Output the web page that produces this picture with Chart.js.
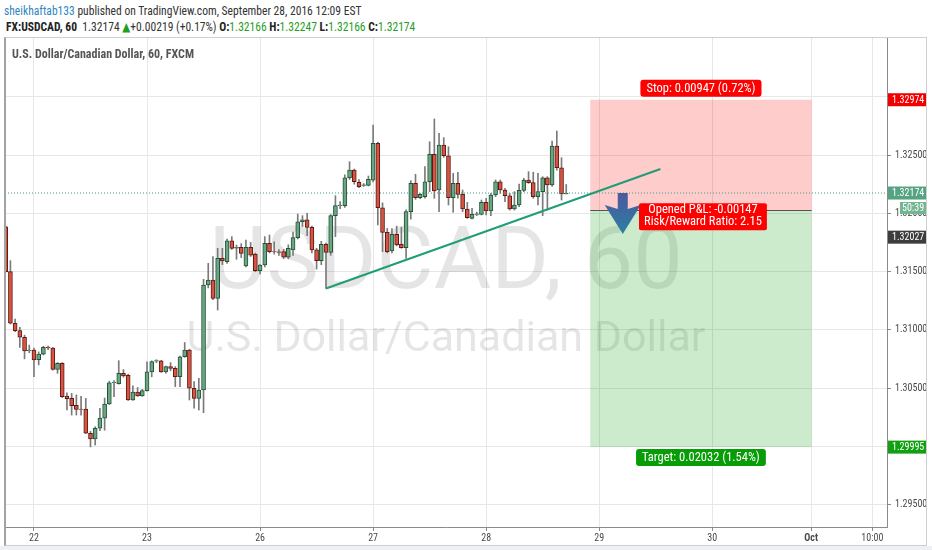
<!DOCTYPE html>
<html>
<head>
<meta charset="utf-8">
<script src="https://cdn.jsdelivr.net/npm/chart.js@4.4.1/dist/chart.umd.min.js"></script>
<style>
  html, body { margin: 0; padding: 0; background: #fff; }
  body { width: 932px; height: 550px; position: relative; overflow: hidden;
         font-family: 'Liberation Sans Narrow', 'Roboto Condensed', 'DejaVu Sans Condensed', sans-serif; color: #333; }
  #hdr1 { position: absolute; left: 4px; top: 3px; font-size: 13px; line-height: 15px; white-space: nowrap;
          transform: scaleX(0.89); transform-origin: left center; }
  #hdr1 .user { color: #2e86c1; }
  #hdr2 { position: absolute; left: 6px; top: 19px; font-size: 12.5px; line-height: 15px; white-space: nowrap;
          transform: scaleX(0.925); transform-origin: left center; }
  #hdr2 b { font-weight: bold; color: #222; }
  #hdr2 .g { color: #1f9e1f; }
  #chartBox { position: absolute; left: 0; top: 37px; width: 932px; height: 508px; }
  #frame { position: absolute; left: 4px; top: 37px; width: 923px; height: 509px; box-sizing: border-box;
           border: 1px solid #cfcfcf; border-left: 2px solid #a3a3a3; pointer-events: none; }
  #legend { position: absolute; left: 12px; top: 46px; font-size: 12px; line-height: 16px; color: #555; font-weight: bold; white-space: nowrap; }
  #strip { position: absolute; left: 0; top: 546px; width: 932px; height: 4px; background: #eef0f3; }
</style>
</head>
<body>
<div id="hdr1"><span class="user">sheikhaftab133</span> published on TradingView.com, September 28, 2016 12:09 EST</div>
<div id="hdr2"><b>FX:USDCAD, 60</b>&nbsp; 1.32174 <span class="g">&#9650;</span>+0.00219 (+0.17%) <b>O:</b><span class="g">1.32166</span> <b>H:</b><span class="g">1.32247</span> <b>L:</b><span class="g">1.32166</span> <b>C:</b><span class="g">1.32174</span></div>
<div id="chartBox"><canvas id="chart"></canvas></div>
<div id="frame"></div>
<div id="legend">U.S. Dollar/Canadian Dollar, 60, FXCM</div>
<div id="strip"></div>
<script>
// hourly candles, Sep 21 evening -> Sep 28 12:00
const candleOpen = [
  1.31885, 1.31500, 1.31057, 1.30994, 1.30937, 1.30822, 1.30828, 1.30746, 1.30792, 1.30852,
  1.30845, 1.30662, 1.30714, 1.30432, 1.30413, 1.30353, 1.30322, 1.30322, 1.30114, 1.30065,
  1.30157, 1.30243, 1.30365, 1.30547, 1.30540, 1.30628, 1.30611, 1.30399, 1.30468, 1.30434,
  1.30480, 1.30640, 1.30732, 1.30735, 1.30640, 1.30685, 1.30670, 1.30600, 1.30770, 1.30828,
  1.30500, 1.30413, 1.30485, 1.31385, 1.31428, 1.31271, 1.31614, 1.31585, 1.31765, 1.31702,
  1.31708, 1.31548, 1.31708, 1.31650, 1.31508, 1.31557, 1.31743, 1.31671, 1.31670, 1.31671,
  1.31623, 1.31686, 1.31791, 1.31928, 1.31945, 1.31880, 1.31686, 1.31594, 1.31734, 1.31665,
  1.31980, 1.32066, 1.32066, 1.32305, 1.32371, 1.32266, 1.32240, 1.32240, 1.32285, 1.32600,
  1.32048, 1.31837, 1.31677, 1.31820, 1.31734, 1.31706, 1.32014, 1.32257, 1.32134, 1.32143,
  1.32271, 1.32506, 1.32200, 1.32586, 1.32494, 1.32134, 1.32257, 1.32163, 1.32037, 1.31957,
  1.31991, 1.31991, 1.32094, 1.32020, 1.32157, 1.32271, 1.32200, 1.32151, 1.32037, 1.32071,
  1.32197, 1.32286, 1.32263, 1.32143, 1.32186, 1.32305, 1.32243, 1.32577, 1.32391, 1.32166
];
const candleHigh = [
  1.31890, 1.31594, 1.31094, 1.31022, 1.30955, 1.30870, 1.30845, 1.30812, 1.30860, 1.30862,
  1.30850, 1.30720, 1.30720, 1.30460, 1.30456, 1.30442, 1.30430, 1.30413, 1.30130, 1.30170,
  1.30328, 1.30416, 1.30560, 1.30565, 1.30736, 1.30660, 1.30620, 1.30520, 1.30506, 1.30490,
  1.30727, 1.30735, 1.30745, 1.30740, 1.30690, 1.30720, 1.30685, 1.30775, 1.30892, 1.30835,
  1.30557, 1.30585, 1.31434, 1.31571, 1.31628, 1.31700, 1.31700, 1.31780, 1.31800, 1.31728,
  1.31740, 1.31770, 1.31750, 1.31660, 1.31560, 1.31800, 1.31814, 1.31756, 1.31690, 1.31690,
  1.31730, 1.31840, 1.31993, 1.31980, 1.32000, 1.31890, 1.31700, 1.31760, 1.31745, 1.31990,
  1.32151, 1.32100, 1.32330, 1.32443, 1.32380, 1.32290, 1.32255, 1.32320, 1.32757, 1.32610,
  1.32090, 1.31870, 1.31870, 1.31890, 1.31880, 1.32030, 1.32280, 1.32335, 1.32170, 1.32400,
  1.32614, 1.32809, 1.32686, 1.32649, 1.32571, 1.32343, 1.32352, 1.32200, 1.32094, 1.32043,
  1.32010, 1.32114, 1.32129, 1.32171, 1.32286, 1.32286, 1.32214, 1.32171, 1.32186, 1.32250,
  1.32300, 1.32357, 1.32352, 1.32343, 1.32314, 1.32314, 1.32620, 1.32706, 1.32477, 1.32247
];
const candleLow = [
  1.31495, 1.31050, 1.30985, 1.30850, 1.30752, 1.30805, 1.30600, 1.30700, 1.30785, 1.30830,
  1.30655, 1.30628, 1.30420, 1.30313, 1.30270, 1.30270, 1.30270, 1.30110, 1.29997, 1.30013,
  1.30137, 1.30140, 1.30360, 1.30428, 1.30535, 1.30595, 1.30395, 1.30395, 1.30430, 1.30430,
  1.30475, 1.30598, 1.30720, 1.30635, 1.30630, 1.30650, 1.30514, 1.30514, 1.30765, 1.30399,
  1.30328, 1.30313, 1.30290, 1.31360, 1.31260, 1.31171, 1.31560, 1.31570, 1.31690, 1.31606,
  1.31620, 1.31540, 1.31630, 1.31500, 1.31480, 1.31540, 1.31660, 1.31650, 1.31640, 1.31610,
  1.31610, 1.31640, 1.31780, 1.31886, 1.31808, 1.31660, 1.31522, 1.31560, 1.31355, 1.31640,
  1.31800, 1.32040, 1.32050, 1.32290, 1.32250, 1.32220, 1.32230, 1.32235, 1.32270, 1.31900,
  1.31671, 1.31660, 1.31660, 1.31720, 1.31700, 1.31614, 1.31950, 1.32120, 1.32125, 1.32130,
  1.32186, 1.32129, 1.32014, 1.32480, 1.32071, 1.32009, 1.32129, 1.32014, 1.31957, 1.31951,
  1.31980, 1.31986, 1.31986, 1.31980, 1.32143, 1.32171, 1.32100, 1.32028, 1.32028, 1.32057,
  1.32186, 1.32257, 1.32129, 1.32071, 1.31980, 1.32028, 1.32230, 1.32370, 1.32114, 1.32166
];
const candleClose = [
  1.31500, 1.31057, 1.30994, 1.30937, 1.30820, 1.30828, 1.30742, 1.30792, 1.30850, 1.30845,
  1.30662, 1.30714, 1.30428, 1.30410, 1.30350, 1.30319, 1.30318, 1.30114, 1.30065, 1.30157,
  1.30243, 1.30365, 1.30547, 1.30550, 1.30628, 1.30605, 1.30399, 1.30468, 1.30434, 1.30480,
  1.30640, 1.30728, 1.30738, 1.30640, 1.30685, 1.30670, 1.30600, 1.30770, 1.30828, 1.30500,
  1.30413, 1.30485, 1.31385, 1.31428, 1.31271, 1.31614, 1.31591, 1.31765, 1.31700, 1.31708,
  1.31657, 1.31708, 1.31642, 1.31508, 1.31557, 1.31743, 1.31671, 1.31668, 1.31665, 1.31623,
  1.31700, 1.31791, 1.31928, 1.31945, 1.31880, 1.31686, 1.31594, 1.31734, 1.31665, 1.31980,
  1.32066, 1.32070, 1.32305, 1.32371, 1.32271, 1.32228, 1.32245, 1.32291, 1.32600, 1.32048,
  1.31837, 1.31671, 1.31820, 1.31728, 1.31706, 1.32014, 1.32257, 1.32134, 1.32163, 1.32271,
  1.32506, 1.32191, 1.32586, 1.32494, 1.32134, 1.32257, 1.32163, 1.32037, 1.31963, 1.31991,
  1.31995, 1.32094, 1.32020, 1.32157, 1.32271, 1.32200, 1.32151, 1.32037, 1.32071, 1.32197,
  1.32286, 1.32263, 1.32143, 1.32186, 1.32305, 1.32243, 1.32577, 1.32391, 1.32166, 1.32174
];

// axis ticks (x in bar index units)
const dayTickIdx = [6, 30, 54, 78, 102, 126, 150, 171, 184];
const dayTickText = ['22', '23', '26', '27', '28', '29', '30', 'Oct', '10:00'];
const priceTicks = [1.295, 1.300, 1.305, 1.310, 1.315, 1.320, 1.325, 1.330];
const coveredTicks = [1.300, 1.330]; // labels sitting under the price tags
const xRange = [-0.15, 187.1];
const yRange = [1.29310, 1.33512];

// drawings
const lastPrice = 1.32174;
const trendX = [68, 139];
const trendY = [1.31355, 1.32380];
const shortFrom = 124.1, shortTo = 171.1;
const entryPrice = 1.32027, stopPrice = 1.32974, targetPrice = 1.29995;
const arrowIdx = 131;
const stopText = 'Stop: 0.00947 (0.72%)';
const targetText = 'Target: 0.02032 (1.54%)';
const pnlText = ['Opened P&L: -0.00147', 'Risk/Reward Ratio: 2.15'];
const watermark = ['USDCAD, 60', 'U.S. Dollar/Canadian Dollar'];
const countdown = '50:39';

const UP = '#6ba583', UP_BORDER = '#225437';
const DOWN = '#d75442', DOWN_BORDER = '#5b1a13';
const narrow = "'Liberation Sans Narrow', 'Roboto Condensed', 'DejaVu Sans Condensed', sans-serif";

Chart.defaults.font.family = narrow;

const isUp = candleOpen.map((o, i) => candleClose[i] >= o);

function roundBox(ctx, x, y, w, h, r, color) {
  ctx.fillStyle = color;
  ctx.beginPath();
  ctx.roundRect(x, y, w, h, r);
  ctx.fill();
}

function priceTag(ctx, left, yc, text, bg, fg) {
  ctx.fillStyle = bg;
  ctx.fillRect(left + 1, yc - 6.5, 38, 13);
  ctx.fillStyle = fg || '#fff';
  ctx.font = '10px ' + narrow;
  ctx.textAlign = 'left';
  ctx.textBaseline = 'middle';
  ctx.fillText(text, left + 5, yc + 0.5);
}

const overlay = {
  id: 'overlay',
  beforeDatasetsDraw(chart) {
    const { ctx, chartArea: a, scales: { x, y } } = chart;
    ctx.save();
    ctx.beginPath();
    ctx.rect(a.left, a.top, a.right - a.left, a.bottom - a.top);
    ctx.clip();
    // watermark
    const cx = (a.left + a.right) / 2, cy = (a.top + a.bottom) / 2;
    ctx.fillStyle = 'rgba(0,0,0,0.1)';
    ctx.textAlign = 'center';
    ctx.textBaseline = 'alphabetic';
    ctx.font = '88px Roboto';
    ctx.fillText(watermark[0], cx, cy + 6);
    ctx.font = '43px Roboto';
    ctx.fillText(watermark[1], cx, cy + 69);
    // short position boxes
    const x0 = x.getPixelForValue(shortFrom), x1 = x.getPixelForValue(shortTo);
    const yS = y.getPixelForValue(stopPrice), yE = y.getPixelForValue(entryPrice), yT = y.getPixelForValue(targetPrice);
    ctx.fillStyle = 'rgba(255,0,0,0.2)';
    ctx.fillRect(x0, yS, x1 - x0, yE - yS);
    ctx.fillStyle = 'rgba(0,155,0,0.2)';
    ctx.fillRect(x0, yE, x1 - x0, yT - yE);
    ctx.strokeStyle = '#555';
    ctx.lineWidth = 1;
    ctx.beginPath();
    ctx.moveTo(x0, Math.round(yE) + 0.5);
    ctx.lineTo(x1, Math.round(yE) + 0.5);
    ctx.stroke();
    ctx.restore();
  },
  afterDraw(chart) {
    const { ctx, scales: { x, y } } = chart;
    const x0 = x.getPixelForValue(shortFrom), x1 = x.getPixelForValue(shortTo);
    const xc = (x0 + x1) / 2;
    const yS = y.getPixelForValue(stopPrice), yE = y.getPixelForValue(entryPrice), yT = y.getPixelForValue(targetPrice);
    ctx.save();
    // arrow
    const ax = x.getPixelForValue(arrowIdx), ay = y.getPixelForValue(lastPrice);
    const g = ctx.createLinearGradient(0, ay, 0, ay + 42);
    g.addColorStop(0, '#4d5a9c');
    g.addColorStop(0.45, '#3d6aa0');
    g.addColorStop(1, '#2a82a0');
    ctx.fillStyle = g;
    ctx.beginPath();
    ctx.moveTo(ax - 5, ay);
    ctx.lineTo(ax + 5, ay);
    ctx.lineTo(ax + 5, ay + 16);
    ctx.lineTo(ax + 18, ay + 12);
    ctx.lineTo(ax, ay + 41);
    ctx.lineTo(ax - 18, ay + 12);
    ctx.lineTo(ax - 5, ay + 16);
    ctx.closePath();
    ctx.fill();

    // labels
    ctx.font = '12.5px ' + narrow;
    ctx.textAlign = 'center';
    ctx.textBaseline = 'middle';
    let w = ctx.measureText(stopText).width + 12;
    roundBox(ctx, xc - w / 2, yS - 20, w, 17, 3, '#ff0000');
    ctx.fillStyle = '#fff';
    ctx.fillText(stopText, xc, yS - 11);

    w = ctx.measureText(targetText).width + 12;
    roundBox(ctx, xc - w / 2, yT + 2, w, 17, 3, '#079d07');
    ctx.fillStyle = '#fff';
    ctx.fillText(targetText, xc, yT + 11);

    w = Math.max(...pnlText.map(t => ctx.measureText(t).width)) + 10;
    roundBox(ctx, xc + 2 - w / 2, yE - 7, w, 27, 2, '#ff0000');
    ctx.fillStyle = '#fff';
    ctx.fillText(pnlText[0], xc + 2, yE);
    ctx.fillText(pnlText[1], xc + 2, yE + 12);

    // price axis tags
    const left = y.left;
    const yL = y.getPixelForValue(lastPrice);
    priceTag(ctx, left, yS, stopPrice.toFixed(5), '#f20000');
    priceTag(ctx, left, yL, lastPrice.toFixed(5), '#55a383');
    ctx.fillStyle = '#74b592';
    ctx.fillRect(left + 13, yL + 9, 26, 12);
    ctx.fillStyle = '#fff';
    ctx.font = '10px ' + narrow;
    ctx.textAlign = 'left';
    ctx.fillText(countdown, left + 15, yL + 15.5);
    priceTag(ctx, left, yE + 27, entryPrice.toFixed(5), '#3d3d3d');
    priceTag(ctx, left, yT, targetPrice.toFixed(5), '#12a012');
    ctx.restore();
  }
};

const idx = candleOpen.map((_, i) => i);

new Chart(document.getElementById('chart'), {
  type: 'bar',
  data: {
    datasets: [
      {
        label: 'wicks',
        data: idx.map(i => ({ x: i, y: [candleLow[i], candleHigh[i]] })),
        backgroundColor: '#7a7a7c',
        barThickness: 1,
        grouped: false,
        order: 4
      },
      {
        label: 'bodies',
        data: idx.map(i => ({ x: i, y: [candleOpen[i], candleClose[i]] })),
        backgroundColor: idx.map(i => isUp[i] ? UP : DOWN),
        borderColor: idx.map(i => isUp[i] ? UP_BORDER : DOWN_BORDER),
        borderWidth: 1,
        borderSkipped: false,
        barThickness: 4,
        grouped: false,
        order: 3
      },
      {
        type: 'line',
        label: 'last',
        data: xRange.map(v => ({ x: v, y: lastPrice })),
        borderColor: '#3f9a86',
        borderWidth: 1,
        borderDash: [1, 2],
        pointRadius: 0,
        order: 2
      },
      {
        type: 'line',
        label: 'trend',
        data: trendX.map((v, i) => ({ x: v, y: trendY[i] })),
        borderColor: '#1f9d76',
        borderWidth: 2,
        pointRadius: 0,
        order: 1
      }
    ]
  },
  options: {
    responsive: true,
    maintainAspectRatio: false,
    animation: false,
    layout: { padding: { left: 5, right: 0, top: 0, bottom: 0 } },
    plugins: { legend: { display: false }, tooltip: { enabled: false } },
    scales: {
      x: {
        type: 'linear',
        min: xRange[0],
        max: xRange[1],
        offset: false,
        grid: { offset: false, color: '#e7e7e7', tickLength: 4, tickColor: '#8a8a8a' },
        border: { color: '#8a8a8a' },
        ticks: {
          autoSkip: false,
          maxRotation: 0,
          padding: 1,
          color: '#4a4a4a',
          font: c => ({ size: 10, weight: dayTickText[c.index] === 'Oct' ? 'bold' : 'normal' }),
          callback: (v, i) => dayTickText[i]
        },
        afterBuildTicks: s => { s.ticks = dayTickIdx.map(v => ({ value: v })); },
        afterFit: s => { s.height = 18; s.paddingLeft = 0; s.paddingRight = 0; }
      },
      y: {
        position: 'right',
        min: yRange[0],
        max: yRange[1],
        grid: { color: '#e7e7e7', tickLength: 4, tickColor: '#8a8a8a' },
        border: { color: '#8a8a8a' },
        ticks: {
          padding: 4,
          color: '#4a4a4a',
          font: { size: 10 },
          callback: v => coveredTicks.some(c => Math.abs(c - v) < 1e-9) ? '' : v.toFixed(5)
        },
        afterBuildTicks: s => { s.ticks = priceTicks.map(v => ({ value: v })); },
        afterFit: s => { s.width = 45; s.paddingTop = 0; s.paddingBottom = 0; }
      }
    }
  },
  plugins: [overlay]
});
</script>
</body>
</html>
